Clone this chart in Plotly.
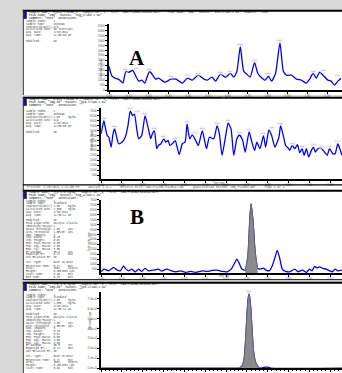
import numpy as np
import plotly.graph_objects as go

W, H = 342, 373

# ---------------- data (time in min, intensity in cps) ----------------
# Panel A, upper chromatogram
a1_time = [0.000, 0.015, 0.030, 0.045, 0.060, 0.070, 0.085, 0.100, 0.120, 0.135, 0.150, 0.165,
           0.180, 0.195, 0.205, 0.220, 0.235, 0.250, 0.265, 0.280, 0.295, 0.310, 0.337, 0.370,
           0.395, 0.420, 0.450, 0.479, 0.495, 0.520, 0.537, 0.562, 0.587, 0.612, 0.629, 0.645,
           0.662, 0.679, 0.695, 0.712, 0.734, 0.750, 0.767, 0.787, 0.804, 0.820, 0.840, 0.862,
           0.879, 0.895, 0.920, 0.945, 0.970, 0.995, 1.012, 1.029, 1.045, 1.062, 1.079, 1.104,
           1.120, 1.137, 1.154, 1.170]
a1_cps = [2400, 1400, 1200, 1100, 900, 700, 1900, 1800, 2000, 1400, 900, 1000,
          700, 1500, 1900, 1500, 1100, 1200, 1000, 800, 900, 1100, 1100, 700,
          1200, 1000, 1500, 1100, 1000, 1300, 900, 1600, 1300, 1700, 1300, 1900,
          4400, 1900, 1600, 1300, 2800, 1700, 1300, 1000, 1400, 900, 1700, 4800,
          1900, 1500, 1500, 1100, 1000, 700, 1100, 1700, 1200, 1800, 1500, 1000,
          900, 500, 900, 1200]
a1_label_times = [0.085, 0.120, 0.205, 0.310, 0.395, 0.450, 0.562, 0.612, 0.662, 0.734,
                  0.804, 0.862, 1.029, 1.062, 1.170]

# Panel A, lower chromatogram
a2_time = [0.000, 0.013, 0.020, 0.029, 0.037, 0.048, 0.057, 0.065, 0.073, 0.084, 0.100, 0.116,
           0.129, 0.140, 0.151, 0.160, 0.171, 0.180, 0.195, 0.211, 0.227, 0.238, 0.246, 0.256,
           0.267, 0.275, 0.287, 0.301, 0.311, 0.322, 0.330, 0.343, 0.356, 0.375, 0.390, 0.403,
           0.413, 0.425, 0.438, 0.454, 0.467, 0.486, 0.506, 0.520, 0.541, 0.557, 0.568, 0.581,
           0.597, 0.610, 0.624, 0.637, 0.652, 0.665, 0.680, 0.692, 0.711, 0.724, 0.737, 0.748,
           0.763, 0.780, 0.790, 0.806, 0.819, 0.835, 0.854, 0.862, 0.875, 0.886, 0.899, 0.906,
           0.918, 0.930, 0.943, 0.954, 0.965, 0.975, 0.986, 0.997, 1.010, 1.020, 1.029, 1.041,
           1.057, 1.073, 1.086, 1.097, 1.113, 1.124, 1.137, 1.149, 1.157]
a2_cps = [4670, 6000, 5330, 4500, 4330, 3330, 4670, 5170, 4500, 3670, 3830, 4330,
          5500, 7000, 6500, 6670, 5170, 4170, 4500, 6500, 5170, 4170, 4670, 5000,
          3170, 3500, 3670, 4170, 3830, 4000, 3500, 3700, 4000, 2570, 3670, 3830,
          5670, 4170, 4570, 4000, 3500, 5000, 3170, 4330, 4170, 5500, 4670, 2500,
          4330, 5770, 5170, 2500, 4170, 4570, 4000, 2830, 4900, 3830, 3000, 3830,
          3170, 4500, 3330, 5070, 4500, 3330, 4330, 5500, 4500, 3500, 3230, 3000,
          3500, 3170, 3570, 2770, 3170, 2500, 3170, 2330, 3000, 3330, 2830, 3170,
          3230, 2830, 2500, 3170, 2670, 2670, 3670, 3000, 2500]
a2_label_times = [0.013, 0.065, 0.140, 0.160, 0.211, 0.256, 0.301, 0.356, 0.413, 0.438,
                  0.486, 0.557, 0.610, 0.665, 0.711, 0.780, 0.806, 0.862, 0.918, 0.965,
                  1.020, 1.041, 1.097, 1.137]

# Panel B, upper chromatogram
b1_time = [0.000, 0.013, 0.037, 0.060, 0.076, 0.092, 0.108, 0.119, 0.132, 0.148, 0.163, 0.180,
           0.195, 0.211, 0.227, 0.251, 0.275, 0.290, 0.314, 0.338, 0.359, 0.382, 0.406, 0.430,
           0.454, 0.486, 0.510, 0.533, 0.557, 0.581, 0.605, 0.625, 0.641, 0.652, 0.663, 0.676,
           0.692, 0.705, 0.714, 0.720, 0.729, 0.740, 0.752, 0.765, 0.780, 0.792, 0.808, 0.822,
           0.835, 0.846, 0.857, 0.870, 0.886, 0.906, 0.930, 0.946, 0.967, 0.986, 1.001, 1.013,
           1.025, 1.037, 1.049, 1.065, 1.081, 1.097, 1.110, 1.124, 1.137, 1.157]
b1_cps = [230, 500, 330, 670, 430, 330, 830, 500, 330, 500, 230, 500,
          270, 570, 330, 400, 500, 300, 500, 330, 230, 330, 170, 270,
          170, 330, 270, 370, 400, 270, 230, 500, 1100, 1500, 1100, 500,
          400, 1830, 5500, 7100, 5500, 2170, 570, 500, 600, 400, 330, 830,
          1670, 2400, 1670, 500, 270, 230, 500, 230, 400, 170, 500, 330,
          770, 630, 730, 570, 500, 330, 230, 500, 330, 400]
b1_peak_start, b1_peak_end = 0.692, 0.752

# Panel B, lower chromatogram
b2_time = [0.000, 0.481, 0.648, 0.662, 0.676, 0.686, 0.693, 0.700, 0.705, 0.710, 0.714, 0.719,
           0.726, 0.733, 0.743, 0.757, 0.771, 0.781, 0.793, 0.805, 0.814, 1.157]
b2_cps = [0, 0, 0, 0, 2000, 8000, 25000, 52000, 68000, 75000, 71000, 60000,
          35000, 15000, 5000, 500, 0, 600, 900, 600, 0, 0]
b2_peak_start, b2_peak_end = 0.662, 0.771
b2_label_times = [0.710]

# ---------------- text ----------------
headers = [
    ['Sample Name: "Blank Plasma 1"  Sample ID: "1"  File: "CBD-Plasma-011514.wiff"   Peak Name: "CBD"  Masses: "315.2/193.1 Da"  Comment: "none"',
     'Peak Name: "CBD"  Masses: "315.2/193.1 Da"',
     'Comment: "none"  Annotation: ""'],
    ['Sample Name: "Blank Plasma 1"  Sample ID: "1"  File: "CBD-Plasma-011514.wiff"',
     'Peak Name: "CBD-d3"  Masses: "318.2/196.1 Da"',
     'Comment: "none"  Annotation: ""'],
    ['Sample Name: "STD 1.0 ng/mL"  Sample ID: "4"  File: "CBD-Plasma-011514.wiff"',
     'Peak Name: "CBD"  Masses: "315.2/193.1 Da"',
     'Comment: "none"  Annotation: ""'],
    ['Sample Name: "STD 1.0 ng/mL"  Sample ID: "4"  File: "CBD-Plasma-011514.wiff"',
     'Peak Name: "CBD-d3"  Masses: "318.2/196.1 Da"',
     'Comment: "none"  Annotation: ""'],
]
short_body = [
    [("Sample Index:", "1"), ("Sample Type:", "Unknown"), ("Concentration(s):", "N/A"),
     ("Calculated Conc:", "No Intercept"), ("Acq. Date:", "1/15/2014"), ("Acq. Time:", "11:05:58 AM"),
     ("", ""), ("Modified:", "No")],
    [("Sample Index:", "1"), ("Sample Type:", "Unknown"), ("Concentration(s):", "1.00     ng/mL"),
     ("Calculated Conc:", "N/A"), ("Acq. Date:", "1/15/2014"), ("Acq. Time:", "11:05:58 AM"),
     ("", ""), ("Modified:", "No")],
]
long_body = [
    ("Sample Index:", "4"), ("Sample Type:", "Standard"), ("Concentration(s):", "1.00     ng/mL"),
    ("Calculated Conc:", "1.035    ng/mL"), ("Acq. Date:", "1/15/2014"), ("Acq. Time:", "11:35:12 AM"),
    ("", ""), ("Modified:", "No"), ("Peak Algorithm:", "Analyst Classic"), ("Smoothing Factor:", "1"),
    ("Noise Threshold:", "1.00     cps"), ("Area Threshold:", "1.0E+03  cps"), ("Num. Smooths:", "3"),
    ("Sep. Width:", "0.20"), ("Sep. Height:", "0.01"), ("Exp. Peak Ratio:", "5.00"),
    ("Exp. Adj. Ratio:", "4.00"), ("Exp. Val. Ratio:", "3.00"), ("RT Window:", "30.0     sec"),
    ("Expected RT:", "0.72     min"), ("Use Relative RT:", "No"), ("", ""),
    ("Int. Type:", "Base To Base"), ("Retention Time:", "0.72     min"), ("Area:", "1551     counts"),
    ("Height:", "5.45e+002 cps"), ("Start Time:", "0.69     min"), ("End Time:", "0.75     min"),
]

# ---------------- layout geometry (pixels) ----------------
def X(px):
    return px / W

def Y(py):
    return 1 - py / H

boxes = [(8, 94), (96, 190), (190, 281), (283, 380)]
axes_geo = [  # x_left, top, bottom, xrange, yrange, ydtick, yfmt
    (107, 22, 89, [0, 1.175], [0, 6700], 500, "d"),
    (99, 107, 179, [0, 1.157], [100, 7300], 500, "d"),
    (99, 200, 274, [0, 1.157], [100, 7500], 500, "d"),
    (99, 293, 370, [0, 1.157], [0, 77000], 10000, ".1e"),
]

fig = go.Figure()
shapes, annots = [], []

for top, bot in boxes:
    shapes.append(dict(type="rect", xref="paper", yref="paper", x0=X(20), x1=X(350),
                       y0=Y(bot), y1=Y(top), fillcolor="white", line=dict(width=0), layer="below"))
    shapes.append(dict(type="line", xref="paper", yref="paper", x0=X(20), x1=X(350),
                       y0=Y(top + 0.8), y1=Y(top + 0.8), line=dict(color="black", width=2)))
    shapes.append(dict(type="line", xref="paper", yref="paper", x0=X(20.5), x1=X(20.5),
                       y0=Y(bot), y1=Y(top), line=dict(color="#333", width=1)))
    shapes.append(dict(type="rect", xref="paper", yref="paper", x0=X(20.5), x1=X(24),
                       y0=Y(top + 9), y1=Y(top + 1), fillcolor="#17177a", line=dict(width=0)))

# extra rules
shapes.append(dict(type="line", xref="paper", yref="paper", x0=X(20), x1=X(350),
                   y0=Y(184.8), y1=Y(184.8), line=dict(color="black", width=1.2)))
shapes.append(dict(type="line", xref="paper", yref="paper", x0=X(20), x1=X(350),
                   y0=Y(280.6), y1=Y(280.6), line=dict(color="#222", width=1)))

series = [(a1_time, a1_cps), (a2_time, a2_cps), (b1_time, b1_cps), (b2_time, b2_cps)]
peaks = [None, None, (b1_peak_start, b1_peak_end), (b2_peak_start, b2_peak_end)]
labels = [a1_label_times, a2_label_times, [], b2_label_times]

for i, ((t, v), geo) in enumerate(zip(series, axes_geo)):
    n = "" if i == 0 else str(i + 1)
    xl, top, bot, xr, yr, ydt, yfmt = geo
    fig.add_trace(go.Scatter(x=t, y=v, mode="lines", xaxis="x" + n, yaxis="y" + n,
                             line=dict(color="#0000ff", width=1.3, shape="spline", smoothing=0.5),
                             showlegend=False, hoverinfo="skip"))
    if peaks[i] is not None:
        ta, va = np.array(t), np.array(v)
        m = (ta >= peaks[i][0]) & (ta <= peaks[i][1])
        fig.add_trace(go.Scatter(x=ta[m], y=va[m], mode="lines", xaxis="x" + n, yaxis="y" + n,
                                 fill="tozeroy", fillcolor="#8a8a8a",
                                 line=dict(color="#6f6f6f", width=1, shape="spline", smoothing=0.5),
                                 showlegend=False, hoverinfo="skip"))
    prev_t = None
    for lt in labels[i]:
        j = int(np.argmin(np.abs(np.array(t) - lt)))
        near_edge = t[j] > xr[1] - 0.02
        crowded = prev_t is not None and t[j] - prev_t < 0.04
        annots.append(dict(x=t[j], y=v[j], xref="x" + n, yref="y" + n, text=f"{t[j]:.2f}",
                           showarrow=False, yshift=2.2,
                           xanchor="right" if near_edge else ("left" if crowded else "center"),
                           font=dict(size=2.2, color="#8a8a8a"),
                           bgcolor="rgba(236,236,236,0.7)", borderpad=0))
        prev_t = t[j]
    axis_common = dict(showline=True, linecolor="black", linewidth=1.5, showgrid=False,
                       zeroline=False, ticks="outside", ticklen=2, tickwidth=0.7,
                       tickcolor="black", tickfont=dict(size=3, color="#555", family="Liberation Sans"))
    fig.update_layout(**{
        "xaxis" + n: dict(domain=[X(xl), 1], range=xr, anchor="y" + n, dtick=0.1, tickformat=".2f",
                          showticklabels=(i != 3),
                          minor=dict(dtick=0.02, ticklen=1.5, tickcolor="black") if i == 3 else None,
                          **axis_common),
        "yaxis" + n: dict(domain=[Y(bot), Y(top)], range=yr, anchor="x" + n, dtick=ydt,
                          tickformat=yfmt, **axis_common),
    })

# header text
for (top, bot), hl in zip(boxes, headers):
    for k, line in enumerate(hl):
        annots.append(dict(x=X(24.5), y=Y(top + 2.0 + 3.3 * k), xref="paper", yref="paper",
                           text=line, showarrow=False, xanchor="left", yanchor="middle",
                           font=dict(size=2.9, color="#111", family="Liberation Mono")))

# body text
body_sets = [(short_body[0], 19, 2.9), (short_body[1], 110, 3.1),
             (long_body, 200.8, 2.86), (long_body, 295.7, 2.86)]
for lines, y0, step in body_sets:
    for k, (lab, val) in enumerate(lines):
        if not lab or y0 + step * k > 371:
            continue
        annots.append(dict(x=X(21.5), y=Y(y0 + step * k), xref="paper", yref="paper",
                           text=f"{lab:<17}{val}".replace(" ", "&nbsp;"), showarrow=False,
                           xanchor="left", yanchor="middle",
                           font=dict(size=2.7, color="#3a3a3a", family="Liberation Mono")))

# axis titles
for xp, yp in [(95, 56), (86, 140), (83, 242), (84, 334)]:
    annots.append(dict(x=X(xp), y=Y(yp), xref="paper", yref="paper", text="Intensity, cps",
                       textangle=-90, showarrow=False,
                       font=dict(size=3.2, color="#444", family="Liberation Sans")))
for xp, yp in [(225, 93), (218, 183.2), (223, 281.5)]:
    annots.append(dict(x=X(xp), y=Y(yp), xref="paper", yref="paper", text="Time, min",
                       showarrow=False, font=dict(size=2.6, color="#555", family="Liberation Sans")))

annots.append(dict(x=X(22), y=Y(187.4), xref="paper", yref="paper", xanchor="left",
                   text="Printed: 1/15/2014 2:14:05 PM     Analyst 1.6.2     Results File: CBD-Plasma-011514.rdb     Quantitation Method: CBD_Plasma.qmf     Page 1 of 4",
                   showarrow=False, font=dict(size=3, color="#555", family="Liberation Mono")))

# panel letters
for letter, yp in [("A", 42), ("B", 217)]:
    annots.append(dict(x=X(135), y=Y(yp), xref="paper", yref="paper", text=f"<b>{letter}</b>",
                       showarrow=False, font=dict(size=21, color="black", family="Liberation Serif")))

fig.update_layout(width=W, height=H, margin=dict(l=0, r=0, t=0, b=0),
                  paper_bgcolor="#d9d9d9", plot_bgcolor="white",
                  shapes=shapes, annotations=annots, showlegend=False)

fig.write_html("out.html", config={"displayModeBar": False},
               post_script="document.body.style.margin='0';document.body.style.padding='0';")
